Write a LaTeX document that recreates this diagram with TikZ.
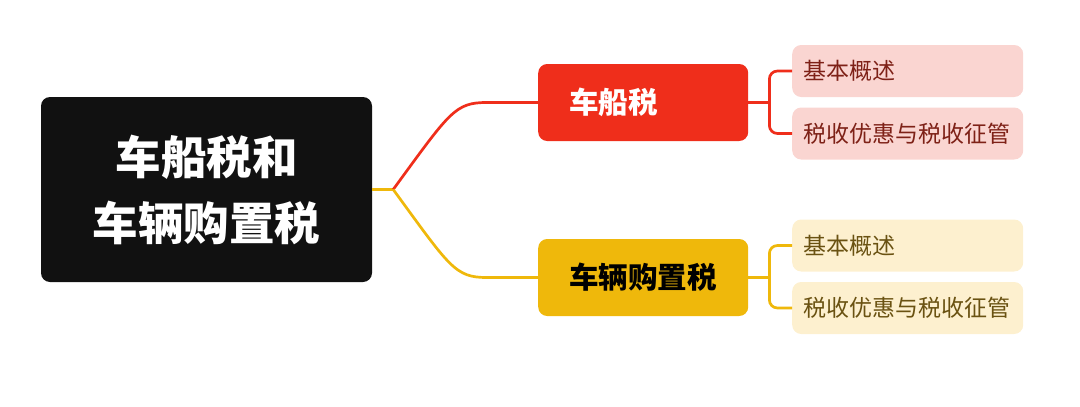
\documentclass[tikz,border=0pt]{standalone}
\usepackage{fontspec}
\newfontfamily\cjk{Noto Sans CJK SC}
\usetikzlibrary{positioning}
\definecolor{rootbg}{HTML}{111111}
\definecolor{cbred}{HTML}{EF2E1B}
\definecolor{cbpink}{HTML}{FAD5D1}
\definecolor{cbtext}{HTML}{7E2117}
\definecolor{gzyel}{HTML}{EFB80B}
\definecolor{gzpale}{HTML}{FDF0CF}
\definecolor{gztext}{HTML}{6A5212}

\begin{document}
\begin{tikzpicture}[x=1pt,y=-1pt,
 rootbox/.style={fill=rootbg,rounded corners=9pt,minimum width=331pt,minimum height=185pt,align=center,text=white,font=\cjk\bfseries\fontsize{45.5}{66}\selectfont},
 topicbox/.style={rounded corners=9pt,minimum height=77pt,inner xsep=31pt,text width=148pt,align=left,anchor=west,font=\cjk\bfseries\fontsize{29.5}{34}\selectfont},
 subbox/.style={rounded corners=9pt,minimum height=52pt,inner xsep=11pt,text width=209pt,align=left,anchor=west,font=\cjk\fontsize{23}{28}\selectfont},
 link/.style={line width=2.7pt}]
\useasboundingbox(0,0)rectangle(1080,407);
\node[rootbox](root)at(206.5,189.5){车船税和\\车辆购置税};
\node[topicbox,fill=cbred,text=white](cb)at(538,102.5){车船税};
\node[topicbox,fill=gzyel,text=black](gz)at(538,277.5){车辆购置税};
\node[subbox,fill=cbpink,text=cbtext](cb1)at(792,71){基本概述};
\node[subbox,fill=cbpink,text=cbtext](cb2)at(792,133.5){税收优惠与税收征管};
\node[subbox,fill=gzpale,text=gztext](gz1)at(792,245.5){基本概述};
\node[subbox,fill=gzpale,text=gztext](gz2)at(792,308){税收优惠与税收征管};
% main branches
\draw[link,gzyel](root.east)--++(21,0)coordinate(fork);
\draw[link,cbred](fork)..controls+(57,-78)and+(-32,0)..([xshift=-51pt]cb.west)--(cb.west);
\draw[link,gzyel](fork)..controls+(57,78)and+(-32,0)..([xshift=-51pt]gz.west)--(gz.west);
% brackets
\draw[link,cbred](cb.east)--++(21,0)coordinate(cbj);
\draw[link,cbred,rounded corners=8pt](cb1.west)--(cb1.west-|cbj)--(cb2.west-|cbj)--(cb2.west);
\draw[link,gzyel](gz.east)--++(21,0)coordinate(gzj);
\draw[link,gzyel,rounded corners=8pt](gz1.west)--(gz1.west-|gzj)--(gz2.west-|gzj)--(gz2.west);
\end{tikzpicture}
\end{document}
